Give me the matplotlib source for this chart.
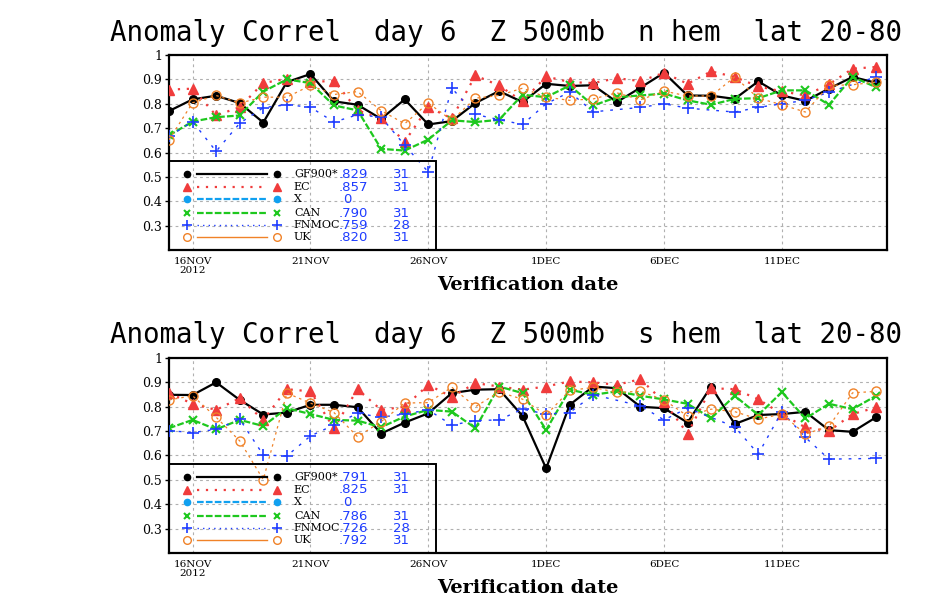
import numpy as np
import pandas as pd
import matplotlib
matplotlib.use("Agg")
import matplotlib.pyplot as plt
from matplotlib.patches import Rectangle

nan = np.nan
dates = pd.date_range("2012-11-15", "2012-12-15", freq="D")

tick_dates = ["2012-11-16", "2012-11-21", "2012-11-26", "2012-12-01", "2012-12-06", "2012-12-11"]
tick_labels = ["16NOV\n2012", "21NOV", "26NOV", "1DEC", "6DEC", "11DEC"]

names = ["GF900*", "EC", "X", "CAN", "FNMOC", "UK"]

# n hem scores
nh_gfs = [0.770, 0.818, 0.833, 0.803, 0.723, 0.889, 0.922, 0.810, 0.796, 0.738, 0.818,
          0.715, 0.729, 0.803, 0.852, 0.807, 0.882, 0.873, 0.876, 0.807, 0.866,
          0.927, 0.834, 0.833, 0.820, 0.892, 0.834, 0.812, 0.862, 0.910, 0.886]
nh_ec = [0.858, 0.862, 0.752, 0.786, 0.885, 0.903, 0.888, 0.895, 0.773, 0.740, 0.645,
         0.786, 0.740, 0.916, 0.875, 0.810, 0.912, 0.889, 0.885, 0.905, 0.893,
         0.927, 0.882, 0.933, 0.910, 0.871, 0.851, 0.834, 0.880, 0.944, 0.951]
nh_x = [nan] * 31
nh_can = [0.670, 0.727, 0.745, 0.752, 0.850, 0.900, 0.885, 0.793, 0.773, 0.615, 0.608,
          0.653, 0.732, 0.725, 0.734, 0.837, 0.827, 0.875, 0.793, 0.827, 0.834,
          0.842, 0.814, 0.796, 0.820, 0.823, 0.855, 0.855, 0.796, 0.910, 0.868]
nh_fnmoc = [0.666, 0.727, 0.605, 0.720, 0.784, 0.796, 0.786, 0.725, 0.755, 0.745, 0.630,
            0.520, 0.864, 0.756, 0.735, 0.715, 0.800, 0.848, 0.767, nan, 0.785,
            0.800, 0.782, nan, 0.766, 0.785, 0.800, 0.814, 0.848, nan, 0.910]
nh_uk = [0.652, 0.804, 0.834, 0.803, 0.827, 0.827, 0.875, 0.838, 0.850, 0.772, 0.718,
         0.803, 0.732, 0.823, 0.834, 0.864, 0.827, 0.814, 0.820, 0.845, 0.816,
         0.852, 0.832, 0.832, 0.910, 0.823, 0.796, 0.766, 0.875, 0.878, 0.889]
nh_means = [".829", ".857", "0", ".790", ".759", ".820"]
nh_counts = ["31", "31", "", "31", "28", "31"]

# s hem scores
sh_gfs = [0.849, 0.848, 0.900, 0.828, 0.768, 0.776, 0.808, 0.808, 0.798, 0.690, 0.735,
          0.773, 0.856, 0.870, 0.872, 0.762, 0.547, 0.808, 0.883, 0.876, 0.800,
          0.794, 0.735, 0.883, 0.729, 0.766, 0.770, 0.779, 0.704, 0.697, 0.757]
sh_ec = [0.856, 0.812, 0.787, 0.835, 0.746, 0.872, 0.863, 0.712, 0.872, 0.787, 0.800,
         0.890, 0.840, 0.897, 0.883, 0.870, 0.883, 0.904, 0.900, 0.890, 0.913,
         0.820, 0.690, 0.876, 0.872, 0.831, 0.770, 0.715, 0.700, 0.770, 0.797]
sh_x = [nan] * 31
sh_can = [0.712, 0.746, 0.707, 0.746, 0.721, 0.794, 0.770, 0.746, 0.743, 0.716, 0.760,
          0.787, 0.780, 0.712, 0.883, 0.856, 0.705, 0.870, 0.849, 0.863, 0.845,
          0.830, 0.812, 0.753, 0.845, 0.766, 0.860, 0.752, 0.812, 0.790, 0.845]
sh_fnmoc = [0.702, 0.694, 0.707, 0.749, 0.602, 0.598, 0.680, 0.725, 0.773, 0.757, 0.770,
            0.787, 0.725, 0.743, 0.746, 0.790, 0.770, 0.776, 0.849, nan, 0.804,
            0.746, 0.794, nan, 0.718, 0.606, 0.780, 0.674, 0.585, nan, 0.588]
sh_uk = [0.828, 0.845, 0.757, 0.660, 0.501, 0.856, 0.815, 0.776, 0.677, 0.739, 0.815,
         0.817, 0.880, 0.800, 0.860, 0.831, 0.766, 0.867, 0.879, 0.859, 0.863,
         0.828, 0.762, 0.790, 0.780, 0.749, 0.770, 0.688, 0.720, 0.857, 0.863]
sh_means = [".791", ".825", "0", ".786", ".726", ".792"]
sh_counts = ["31", "31", "", "31", "28", "31"]

# line / marker styles per model
styles = [
    dict(color="black", ls="-", lw=1.6, marker="o", ms=5.5, mfc="black", mew=1),
    dict(color="#f03c3c", ls=(0, (1, 3)), lw=1.6, marker="^", ms=6.5, mfc="#f03c3c", mew=1),
    dict(color="#10a0f0", ls=(0, (3, 1)), lw=1.6, marker="o", ms=5.5, mfc="#10a0f0", mew=1),
    dict(color="#1ec81e", ls=(0, (3, 1)), lw=1.6, marker="x", ms=5.5, mfc="#1ec81e", mew=1.5),
    dict(color="#1e3cff", ls=(0, (2, 5)), lw=1.0, marker="+", ms=8, mfc="#1e3cff", mew=1.2),
    dict(color="#f08228", ls=(0, (2, 3)), lw=0.9, marker="o", ms=6.5, mfc="none", mew=1),
]
legend_ls = ["-", (0, (1, 3)), (0, (3, 1)), (0, (3, 1)), (0, (1, 3)), "-"]

fig = plt.figure(figsize=(9.3, 6.08), dpi=100)


def draw_panel(ax, series, means, counts):
    for vals, st in zip(series, styles):
        y = np.array(vals, dtype=float)
        ok = ~np.isnan(y)
        ax.plot(dates[ok], y[ok], color=st["color"], ls=st["ls"], lw=st["lw"],
                marker=st["marker"], ms=st["ms"], mfc=st["mfc"], mec=st["color"],
                mew=st["mew"], zorder=3)

    ax.set_xlim(pd.Timestamp("2012-11-15"), pd.Timestamp("2012-12-15 11:00"))
    ax.set_ylim(0.2, 1.0)
    ax.set_yticks([0.3, 0.4, 0.5, 0.6, 0.7, 0.8, 0.9, 1.0])
    ax.set_yticklabels(["0.3", "0.4", "0.5", "0.6", "0.7", "0.8", "0.9", "1"],
                       family="DejaVu Serif", fontsize=9)
    ax.set_xticks(pd.to_datetime(tick_dates))
    ax.set_xticklabels(tick_labels, family="DejaVu Serif", fontsize=7.5, linespacing=0.95)
    ax.tick_params(axis="y", length=3, width=1, pad=2)
    ax.tick_params(axis="x", length=0, pad=5)
    ax.grid(True, color="#b0b0b0", ls=(0, (2.5, 3)), lw=0.8, zorder=0)
    for sp in ax.spines.values():
        sp.set_linewidth(1.6)
    ax.set_xlabel("Verification date", family="DejaVu Serif", fontweight="bold",
                  fontsize=14, labelpad=1)

    # legend box drawn the GrADS way: marker, line, marker, name, score, count
    tr = ax.transAxes
    ax.add_patch(Rectangle((0, 0), 0.372, 0.456, transform=tr, fill=False,
                           ec="black", lw=1.4, clip_on=False, zorder=4))
    rows = [0.388, 0.323, 0.261, 0.189, 0.127, 0.066]
    for k, st in enumerate(styles):
        yr = rows[k]
        ax.plot([0.039, 0.1365], [yr, yr], transform=tr, color=st["color"],
                ls=legend_ls[k], lw=st["lw"] if k != 5 else 1.0, clip_on=False, zorder=5)
        ax.plot([0.025, 0.150], [yr, yr], transform=tr, ls="none",
                marker=st["marker"], ms=st["ms"] - 1, mfc=st["mfc"], mec=st["color"],
                mew=st["mew"], clip_on=False, zorder=5)
        ax.text(0.174, yr, names[k], transform=tr, family="DejaVu Serif",
                fontsize=8, va="center", ha="left", zorder=5)
        ax.text(0.236 if means[k] != "0" else 0.243, yr, means[k], transform=tr,
                family="DejaVu Sans", fontsize=9.5, color="#1e3cff",
                va="center", ha="left", zorder=5)
        ax.text(0.312, yr, counts[k], transform=tr, family="DejaVu Sans",
                fontsize=9.5, color="#1e3cff", va="center", ha="left", zorder=5)


ax1 = fig.add_axes([0.1817, 0.5888, 0.772, 0.3207])
draw_panel(ax1, [nh_gfs, nh_ec, nh_x, nh_can, nh_fnmoc, nh_uk], nh_means, nh_counts)
fig.text(0.544, 0.946, "Anomaly Correl  day 6  Z 500mb  n hem  lat 20-80",
         family="DejaVu Sans Mono", fontsize=19.8, ha="center", va="center")

ax2 = fig.add_axes([0.1817, 0.0905, 0.772, 0.3207])
draw_panel(ax2, [sh_gfs, sh_ec, sh_x, sh_can, sh_fnmoc, sh_uk], sh_means, sh_counts)
fig.text(0.544, 0.449, "Anomaly Correl  day 6  Z 500mb  s hem  lat 20-80",
         family="DejaVu Sans Mono", fontsize=19.8, ha="center", va="center")

fig.savefig("out.png", dpi=100)
